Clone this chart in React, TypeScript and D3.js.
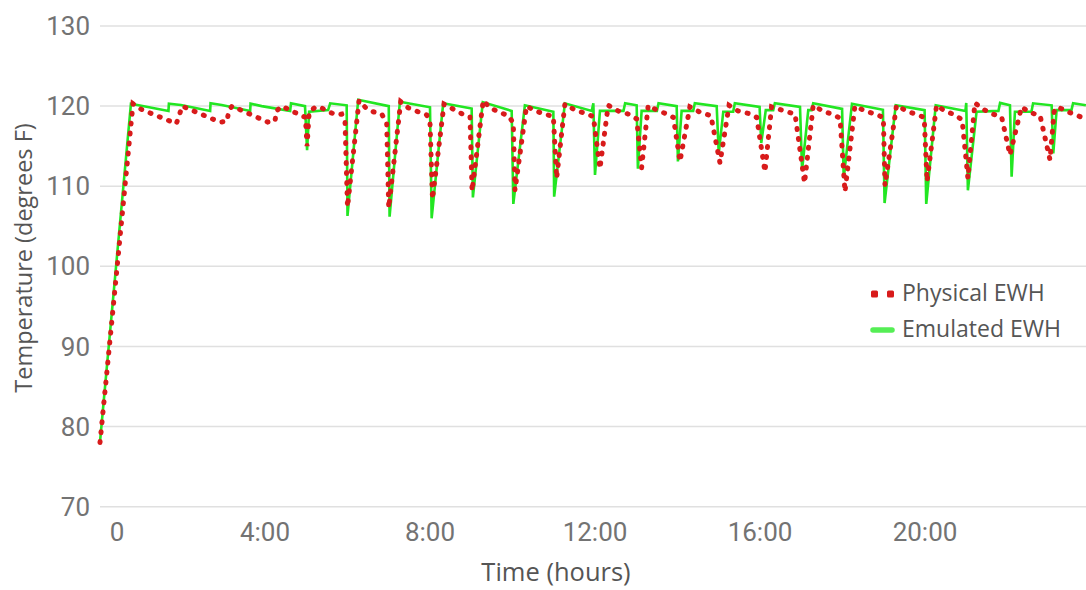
import React from "react";
import * as d3 from "d3";

// ---- Data (hours since start, temperature in °F) ----
const emulatedHours = [
  0, 0.75, 1.66, 1.67, 1.96, 2.67, 2.68, 2.95, 3.64, 3.65, 3.92, 4.61, 4.63, 4.97, 5.02, 5.07, 5.53, 5.58, 5.98,
  6.0, 6.26, 7.0, 7.02, 7.27, 8.0, 8.04, 8.32, 9.01, 9.04, 9.28, 9.98, 10.02, 10.3, 10.99, 11.01, 11.27,
  11.92, 11.96, 12.0, 12.12, 12.69, 12.73, 13.01, 13.04, 13.13, 13.5, 13.54, 13.98, 14.01, 14.1, 14.38, 14.42,
  14.95, 15.0, 15.11, 15.35, 15.39, 15.99, 16.03, 16.14, 16.32, 16.36, 16.97, 17.02, 17.17, 17.25, 17.29,
  17.99, 18.03, 18.23, 18.98, 19.02, 19.29, 19.99, 20.03, 20.26, 20.98, 21.0, 21.04, 21.25, 21.78, 21.82,
  22.06, 22.1, 22.18, 22.58, 22.62, 23.07, 23.11, 23.19, 23.55, 23.59, 23.9,
];
const emulatedTemps = [
  78.1, 120.3, 119.4, 120.3, 120.15, 119.4, 120.35, 120.15, 119.4, 120.3, 120.0, 119.4, 120.35, 120.0, 114.5, 119.3, 119.5, 120.35, 120.1,
  106.3, 120.8, 120.0, 106.2, 120.55, 119.85, 106.0, 120.35, 119.7, 108.6, 120.5, 119.4, 107.8, 120.1, 119.3, 108.7, 120.35,
  119.4, 120.35, 111.4, 119.4, 119.4, 120.35, 120.1, 112.2, 119.4, 119.4, 120.35, 120.0, 113.1, 119.4, 119.4, 120.35,
  120.0, 114.1, 119.3, 119.3, 120.35, 119.9, 115.4, 119.5, 119.5, 120.35, 119.9, 112.0, 119.5, 119.5, 120.35,
  119.65, 111.0, 120.3, 119.55, 107.9, 120.1, 119.5, 107.8, 120.1, 119.4, 120.4, 109.5, 119.3, 119.4, 120.4,
  120.1, 111.2, 119.3, 119.3, 120.35, 120.1, 114.1, 119.5, 119.5, 120.35, 120.1,
];

const physicalHours = [
  0, 0.8, 1.0, 1.85, 1.93, 1.99,
  2.91, 3.08, 3.12, 3.2,
  4.07, 4.24, 4.28, 4.41,
  4.85, 4.98, 5.02, 5.07, 5.21, 5.33, 5.53, 5.74, 5.86, 5.94,
  6.0, 6.28, 6.46, 6.62, 6.83, 6.95,
  7.0, 7.29, 7.47, 7.71, 7.92, 8.0,
  8.06, 8.34, 8.57, 8.79, 8.97,
  9.02, 9.29, 9.45, 9.7, 9.9, 10.02,
  10.06, 10.34, 10.55, 10.79, 10.99,
  11.07, 11.27, 11.52, 11.76, 11.96,
  12.12, 12.32, 12.56, 12.81, 13.01,
  13.13, 13.29, 13.5, 13.7, 13.9,
  14.06, 14.3, 14.56, 14.81,
  15.03, 15.25, 15.47, 15.71, 15.92,
  16.12, 16.28, 16.65, 16.85,
  17.08, 17.29, 17.52, 17.74, 17.94,
  18.06, 18.3, 18.55, 18.79, 18.99,
  19.03, 19.31, 19.55, 19.77, 19.98,
  20.05, 20.28, 20.48, 20.68, 20.9,
  21.04, 21.21, 21.41, 21.65, 21.86,
  22.06, 22.34, 22.55, 22.79,
  23.03, 23.13, 23.22, 23.45, 23.67, 23.88,
];
const physicalTemps = [
  78.0, 120.3, 119.6, 117.8, 119.0, 120.0,
  118.0, 118.1, 119.4, 120.0,
  118.0, 118.1, 119.4, 120.0,
  118.9, 118.6, 115.0, 119.2, 119.85, 119.9, 119.3, 118.9, 119.0, 118.05,
  107.4, 120.7, 119.7, 119.3, 119.0, 117.9,
  107.3, 120.55, 119.8, 119.3, 118.9, 117.9,
  108.4, 120.25, 119.6, 119.0, 118.7,
  109.4, 120.7, 119.8, 119.2, 118.8, 117.9,
  109.5, 120.0, 119.4, 119.0, 118.7,
  111.0, 120.25, 119.5, 119.1, 118.7,
  112.2, 120.1, 119.4, 119.0, 118.4,
  112.3, 120.1, 119.5, 119.1, 118.6,
  113.1, 119.9, 119.2, 118.8,
  112.9, 120.1, 119.4, 119.1, 118.6,
  111.8, 119.9, 119.3, 119.0,
  110.4, 120.1, 119.4, 119.0, 118.5,
  109.3, 120.0, 119.4, 119.0, 118.6,
  110.1, 120.1, 119.4, 119.0, 118.6,
  110.6, 120.1, 119.4, 119.0, 118.3,
  111.0, 120.4, 119.6, 119.0, 118.6,
  113.9, 119.9, 119.2, 118.8,
  113.3, 119.3, 119.9, 119.3, 118.9, 118.4,
];

const yTicks = [70, 80, 90, 100, 110, 120, 130];
const xTickHours = [0, 4, 8, 12, 16, 20];
const xTickLabels = ["0", "4:00", "8:00", "12:00", "16:00", "20:00"];
const seriesNames = ["Physical EWH", "Emulated EWH"];

const W = 1086;
const H = 590;
const RED = "#d81b1b";
const GREEN = "#22e622";

export default function App() {
  const x = d3.scaleLinear().domain([0, 24]).range([100, 1090]);
  const y = d3.scaleLinear().domain([70, 130]).range([506.7, 26]);
  const line = d3
    .line<[number, number]>()
    .x((d) => x(d[0]))
    .y((d) => y(d[1]));

  const emulated: [number, number][] = emulatedHours.map((h, i) => [h, emulatedTemps[i]]);
  const physical: [number, number][] = physicalHours.map((h, i) => [h, physicalTemps[i]]);

  return (
    <svg
      width={W}
      height={H}
      style={{ position: "absolute", left: 0, top: 0, background: "#fff" }}
    >
      <defs>
        <clipPath id="plotClip">
          <rect x={95} y={0} width={W - 95} height={H} />
        </clipPath>
      </defs>
      {/* gridlines + y labels */}
      {yTicks.map((t) => (
        <g key={t}>
          <line x1={100} x2={W} y1={y(t)} y2={y(t)} stroke="#e0e0e0" strokeWidth={1.5} />
          <text
            x={90}
            y={y(t)}
            dy="0.35em"
            textAnchor="end"
            fontFamily="Roboto, sans-serif"
            fontSize={26}
            fill="#737373"
          >
            {t}
          </text>
        </g>
      ))}
      {/* x tick labels */}
      {xTickHours.map((h, i) => (
        <text
          key={h}
          x={x(h) + (i === 0 ? 17 : 0)}
          y={541}
          textAnchor="middle"
          fontFamily="Roboto, sans-serif"
          fontSize={26}
          fill="#737373"
        >
          {xTickLabels[i]}
        </text>
      ))}
      {/* axis titles */}
      <text
        x={556}
        y={581}
        textAnchor="middle"
        fontFamily="'Open Sans', sans-serif"
        fontSize={25.5}
        fill="#555"
      >
        Time (hours)
      </text>
      <text
        transform="translate(32,258) rotate(-90)"
        textAnchor="middle"
        fontFamily="'Open Sans', sans-serif"
        fontSize={23.5}
        fill="#555"
      >
        Temperature (degrees F)
      </text>
      {/* series */}
      <g clipPath="url(#plotClip)">
        <path d={line(emulated) || ""} fill="none" stroke={GREEN} strokeWidth={2.6} strokeLinejoin="miter" />
        <path
          d={line(physical) || ""}
          fill="none"
          stroke={RED}
          strokeWidth={5}
          strokeDasharray="1 9"
          strokeLinecap="round"
        />
      </g>
      {/* legend */}
      <g>
        <rect x={871} y={290.5} width={7} height={7} rx={1.5} fill={RED} />
        <rect x={887} y={290.5} width={7} height={7} rx={1.5} fill={RED} />
        <text x={902} y={301} fontFamily="'Open Sans', sans-serif" fontSize={23} fill="#555">
          {seriesNames[0]}
        </text>
        <line x1={873} x2={892} y1={330} y2={330} stroke="#55ee55" strokeWidth={5.5} strokeLinecap="round" />
        <text x={902} y={337} fontFamily="'Open Sans', sans-serif" fontSize={23} fill="#555">
          {seriesNames[1]}
        </text>
      </g>
    </svg>
  );
}
